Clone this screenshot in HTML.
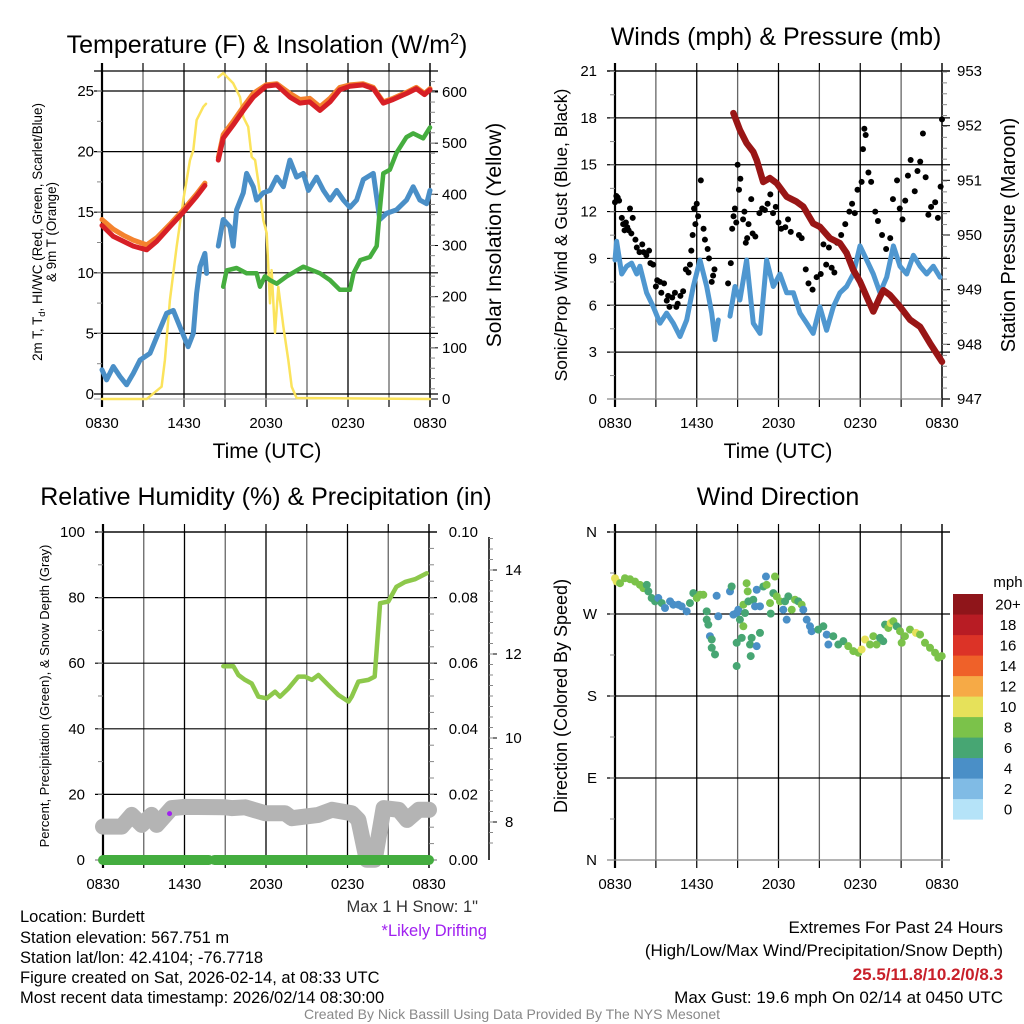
<!DOCTYPE html>
<html><head><meta charset="utf-8"><style>
body{margin:0;background:#fff}
svg{display:block;font-family:"Liberation Sans",sans-serif}
</style></head><body>
<svg id="s" width="1024" height="1024" viewBox="0 0 1024 1024">
<rect width="1024" height="1024" fill="#fff"/>
<g id="g"></g>
<g id="txt" font-size="16.5" fill="#000">
<text x="267" y="53" font-size="25" text-anchor="middle">Temperature (F) &amp; Insolation (W/m<tspan dy="-9" font-size="16">2</tspan><tspan dy="9">)</tspan></text>
<text x="776" y="45" font-size="25" text-anchor="middle">Winds (mph) &amp; Pressure (mb)</text>
<text x="266" y="505" font-size="25" text-anchor="middle">Relative Humidity (%) &amp; Precipitation (in)</text>
<text x="778" y="505" font-size="25" text-anchor="middle">Wind Direction</text>
<text x="267" y="458" font-size="21" text-anchor="middle">Time (UTC)</text>
<text x="778" y="458" font-size="21" text-anchor="middle">Time (UTC)</text>
<text transform="translate(42,232) rotate(-90)" font-size="13.4" text-anchor="middle">2m T, T<tspan dy="3" font-size="9.5">d</tspan><tspan dy="-3">, HI/WC (Red, Green, Scarlet/Blue)</tspan></text>
<text transform="translate(56,232) rotate(-90)" font-size="13.4" text-anchor="middle">&amp; 9m T (Orange)</text>
<text transform="translate(501,235) rotate(-90)" font-size="21" text-anchor="middle">Solar Insolation (Yellow)</text>
<text transform="translate(567,235) rotate(-90)" font-size="17.5" text-anchor="middle">Sonic/Prop Wind &amp; Gust (Blue, Black)</text>
<text transform="translate(1015,235) rotate(-90)" font-size="20" text-anchor="middle">Station Pressure (Maroon)</text>
<text transform="translate(49,696) rotate(-90)" font-size="13" text-anchor="middle">Percent, Precipitation (Green), &amp; Snow Depth (Gray)</text>
<text transform="translate(567,696) rotate(-90)" font-size="18" text-anchor="middle">Direction (Colored By Speed)</text>
<text x="478" y="912" text-anchor="end" fill="#333">Max 1 H Snow: 1"</text>
<text x="487" y="936" text-anchor="end" fill="#a020f0">*Likely Drifting</text>
<text x="20" y="922">Location: Burdett</text>
<text x="20" y="943">Station elevation: 567.751 m</text>
<text x="20" y="963">Station lat/lon: 42.4104; -76.7718</text>
<text x="20" y="983">Figure created on Sat, 2026-02-14, at 08:33 UTC</text>
<text x="20" y="1003">Most recent data timestamp: 2026/02/14 08:30:00</text>
<text x="1003" y="933" font-size="17" text-anchor="end">Extremes For Past 24 Hours</text>
<text x="1003" y="956" font-size="17" text-anchor="end">(High/Low/Max Wind/Precipitation/Snow Depth)</text>
<text x="1003" y="980" font-size="17" font-weight="bold" fill="#c8202a" text-anchor="end">25.5/11.8/10.2/0/8.3</text>
<text x="1003" y="1003" font-size="17" text-anchor="end">Max Gust: 19.6 mph On 02/14 at 0450 UTC</text>
<text x="512" y="1019" font-size="14" fill="#888" text-anchor="middle">Created By Nick Bassill Using Data Provided By The NYS Mesonet</text>
<text x="1008" y="587" font-size="15" text-anchor="middle">mph</text>
</g>
</svg>
<script>
// ---- data (hours since 0830 UTC) ----
const xTickLabels=["0830","1430","2030","0230","0830"];
const tempTicks=[0,5,10,15,20,25];
const insolTicks=[0,100,200,300,400,500,600];
const windTicks=[0,3,6,9,12,15,18,21];
const presTicks=[947,948,949,950,951,952,953];
const rhTicks=[0,20,40,60,80,100];
const precipTicks=["0.00","0.02","0.04","0.06","0.08","0.10"];
const snowTicks=[8,10,12,14];
const dirTicks=["N","E","S","W","N"];
const speedBins=["0","2","4","6","8","10","12","14","16","18","20+"];
const speedColors=["#b5e3f8","#80bbe5","#4a8fc7","#47a673","#7bc24a","#e6e15a","#f6aa46","#ef6129","#dc3327","#b81c24","#8f151a"];

const red1T=[0,0.83,1.56,2.29,3.27,4.0,4.97,5.95,6.92,7.53];
const red1V=[13.9,13.0,12.6,12.2,11.9,12.6,13.8,15.0,16.3,17.2];
const orange1V=[14.4,13.6,13.1,12.7,12.3,12.9,14.0,15.2,16.5,17.4];
const red2T=[8.51,8.87,9.6,10.34,11.07,12.0,12.78,13.75,14.48,15.2,15.95,16.68,17.4,18.14,19.1,19.85,20.58,21.3,22.3,23.0,23.6,24.0];
const red2V=[19.3,21.1,22.2,23.4,24.5,25.4,25.5,24.5,24.0,24.1,23.4,24.1,25.1,25.4,25.5,25.2,24.0,24.3,24.8,25.2,24.7,25.1];
const orange2V=[19.5,21.4,22.5,23.7,24.8,25.5,25.6,24.8,24.3,24.4,23.7,24.4,25.3,25.5,25.6,25.3,24.1,24.4,24.9,25.3,24.8,25.2];
const dew1T=[0,0.34,0.83,1.32,1.8,2.29,2.78,3.51,4.0,4.73,5.22,5.7,6.3,6.68,6.92,7.17,7.53,7.65];
const dew1V=[2.0,1.16,2.27,1.44,0.76,1.7,2.8,3.36,4.7,6.66,6.9,5.55,3.9,5.0,8.3,10.5,11.6,9.95];
const dew2T=[8.51,8.87,9.36,9.6,9.85,10.34,10.58,11.07,11.31,11.8,12.29,12.78,13.27,13.75,14.24,14.73,15.1,15.7,16.2,16.68,17.17,17.66,18.14,18.63,19.12,19.85,20.33,20.82,21.55,22.28,22.77,23.26,23.75,24];
const dew2V=[12.2,14.4,13.8,12.2,15.2,16.6,18.2,17.1,16.0,16.6,16.8,17.9,17.1,19.3,17.9,18.2,16.8,17.9,16.8,16.0,16.8,16.0,15.4,16.0,17.7,18.2,14.4,14.9,15.2,16.0,17.1,16.0,15.7,16.8];
const hiT=[8.87,9.12,9.85,10.58,11.31,11.56,11.92,12.29,12.78,13.51,14.73,15.95,16.68,17.4,18.14,18.4,18.9,19.6,20.1,20.33,20.58,21.06,21.55,22.28,22.77,23.5,24.0];
const hiV=[8.85,10.2,10.4,9.96,9.96,8.85,9.7,9.4,9.1,9.7,10.5,9.96,9.4,8.6,8.6,9.96,11.05,11.3,12.2,15.2,18.2,18.5,19.9,21.2,21.5,21.1,22.0];
const sol1T=[0,3.27,3.76,4.36,4.6,4.97,5.46,5.95,6.44,6.68,6.92,7.41,7.61];
const sol1V=[0,0,11,24,76,193,297,389,467,486,545,571,577];
const sol2T=[8.51,8.87,9.6,10.1,10.34,10.7,10.95,11.2,11.56,11.8,12.05,12.29,12.41,12.66,12.9,13.27,13.63,13.88,14.24,24];
const sol2V=[629,637,617,590,551,532,473,467,402,350,324,187,252,129,219,141,76,24,2,0];

const wind1T=[0,0.12,0.49,0.86,1.22,1.59,1.83,2.32,2.81,3.3,3.79,4.28,4.77,5.26,5.75,6.24,6.73,7.1,7.34,7.58];
const wind1V=[8.9,10.1,8.0,8.5,8.7,8.0,8.5,6.8,5.9,4.85,5.5,4.85,4.0,5.06,7.2,8.9,7.2,5.5,3.8,5.06];
const wind2T=[8.44,8.81,9.17,9.66,10.15,10.64,11.13,11.62,12.1,12.6,13.09,13.58,14.07,14.55,15.04,15.53,16.02,16.51,17.0,17.49,17.98,18.47,18.96,19.45,19.94,20.43,20.92,21.41,21.9,22.39,22.88,23.36,23.85];
const wind2V=[5.3,7.2,6.34,8.9,4.85,4.2,8.9,7.2,8.0,6.8,6.8,5.5,4.85,4.2,5.9,4.4,5.9,6.8,7.2,8.0,9.8,8.9,8.0,6.8,7.8,9.8,8.5,8.0,9.2,8.5,8.0,8.5,7.8];
const gustT=[0,0.1,0.2,0.3,0.5,0.6,0.7,0.8,0.9,1.0,1.1,1.2,1.3,1.5,1.6,1.8,2.0,2.1,2.3,2.5,2.6,2.8,3.0,3.1,3.3,3.4,3.6,3.8,3.9,4.0,4.2,4.4,4.5,4.6,4.8,5.0,5.2,5.4,5.5,5.6,5.7,5.8,5.9,6.0,6.1,6.3,6.5,6.6,6.8,6.9,7.1,7.2,7.3,8.3,8.5,8.6,8.7,8.8,8.9,9.0,9.1,9.2,9.4,9.5,9.6,9.7,9.8,10.0,10.1,10.3,10.6,10.8,11.0,11.2,11.4,11.6,11.8,12.0,12.2,12.5,12.7,12.9,13.2,13.5,13.7,14.0,14.2,14.5,14.8,15.1,15.3,15.5,15.7,15.9,16.1,16.3,16.6,16.9,17.2,17.4,17.6,17.8,18.1,18.2,18.3,18.4,18.6,18.8,19.1,19.3,19.6,19.9,20.2,20.4,20.7,20.9,21.1,21.3,21.5,21.7,22.0,22.2,22.4,22.6,22.8,23.0,23.2,23.5,23.7,23.9,24.0];
const gustV=[12.6,13,12.9,12.7,11.6,11.2,10.8,11.3,11.0,10.8,12.2,10.6,11.6,10.2,9.7,9.4,9.9,9.4,9.2,9.5,8.7,8.6,7.2,7.6,7.5,6.8,7.4,6.3,6.6,5.9,6.5,6.8,5.9,6.1,6.6,6.9,8.3,8.1,8.6,9.5,10.5,12.2,11.2,12.5,11.7,14.0,10.9,10.2,9.6,9.0,7.5,7.9,8.3,7.4,8.7,10.9,11.7,12.2,11.3,15.0,13.4,14.1,11.5,12.0,10.0,10.3,11.2,12.8,10.6,10.4,11.9,12.2,12.1,12.5,13.1,11.9,12.3,11.3,10.9,11.0,11.5,10.7,12.7,10.5,10.3,8.3,7.4,7.0,7.8,8.0,9.9,8.6,9.7,8.4,8.1,10.0,10.5,11.2,12.0,12.5,11.9,13.4,13.9,16.0,17.3,16.9,14.5,13.9,12.0,11.4,10.5,9.6,10.3,12.8,14.0,12.2,11.5,12.7,14.3,15.3,13.3,14.6,15.2,17.0,14.2,11.8,12.3,12.6,11.6,13.6,17.9];
const presT=[8.69,9.17,9.66,10.15,10.4,10.88,11.37,11.86,12.6,13.33,13.82,14.55,15.04,15.78,16.51,17.0,17.49,17.98,18.47,18.96,19.45,19.7,20.18,20.92,21.65,22.39,23.12,24];
const presV=[952.23,951.92,951.68,951.52,951.37,950.97,951.04,950.95,950.7,950.61,950.52,950.21,950.15,949.94,949.85,949.67,949.36,949.15,948.87,948.6,948.87,948.99,948.9,948.69,948.45,948.32,948.02,947.68];

const rhT=[8.86,9.6,9.97,10.46,10.95,11.44,12.05,12.67,13.03,13.65,14.38,14.87,15.37,15.86,16.6,17.33,18.07,18.31,18.8,19.54,20.0,20.4,21.0,21.6,22.24,22.97,23.83];
const rhV=[59.1,59.1,56.4,54.9,53.8,49.8,49.3,51.3,49.8,52.3,55.9,55.9,54.9,56.4,53.3,50.3,48.3,49.8,54.4,54.9,55.9,78.3,78.8,83.3,84.8,85.6,87.4];
const snowT=[0,1.38,2.11,2.85,3.58,3.95,5.06,6.04,8.98,9.47,10.46,11.93,13.4,13.9,15.86,16.85,18.31,18.8,19.42,20.0,20.66,21.77,22.38,23.24,24];
const snowV=[7.89,7.89,8.17,7.93,8.17,7.93,8.33,8.36,8.35,8.33,8.35,8.21,8.21,8.09,8.17,8.29,8.21,8.05,7.1,7.1,8.33,8.29,8.05,8.29,8.29];
const precip1T=[0,7.8];const precip1V=[0,0];
const precip2T=[8.2,24];const precip2V=[0,0];
const driftT=[4.9];const driftV=[8.2];

const dirT=[0,0.12,0.37,0.73,1.1,1.47,1.83,2.08,2.33,2.45,2.69,2.94,3.18,3.43,3.67,4.04,4.28,4.65,4.89,5.26,5.5,5.75,6.0,6.24,6.48,6.73,6.73,6.85,6.97,7.1,7.1,7.34,7.46,7.58,8.44,8.56,8.69,8.93,9.05,9.17,8.93,9.3,9.42,9.54,9.66,9.74,9.42,9.79,10.15,10.4,9.91,10.03,10.4,10.64,9.96,8.93,10.28,10.64,10.89,11.08,11.13,11.38,11.43,11.62,11.74,11.87,12.11,12.35,12.48,12.72,12.97,12.6,13.21,13.45,13.7,13.82,14.07,14.31,14.43,14.92,15.29,15.54,15.66,16.02,16.39,16.76,17.12,17.49,17.86,18.1,18.35,18.72,18.96,19.2,19.45,19.69,19.82,20.06,20.23,20.43,20.67,20.92,21.04,21.28,21.65,22.09,22.39,22.75,23.12,23.49,23.73,23.98];
const dirV=[309.3,305.6,303.8,309.3,308.2,305.6,302.0,298.4,302.0,294.8,287.5,283.9,287.5,282.0,276.6,283.9,280.2,280.2,278.4,272.9,282.0,292.9,287.5,291.1,291.1,272.9,263.8,258.3,245.6,242.0,232.9,225.6,290.0,267.5,294.8,300.2,269.3,271.1,274.7,263.8,238.4,243.8,256.5,271.1,303.8,294.8,280.2,283.9,285.7,296.6,236.5,243.8,234.7,249.3,223.8,212.9,278.4,278.4,300.2,311.1,302.0,282.0,270.4,292.9,311.1,289.3,283.9,274.7,283.9,289.3,274.7,263.8,285.7,283.9,280.2,274.7,263.8,256.5,251.1,252.9,256.5,247.4,236.5,245.6,236.5,240.2,234.7,229.3,227.5,231.1,242.0,236.5,245.6,236.5,243.8,240.2,258.3,254.7,260.1,262.0,256.5,251.1,238.4,245.6,252.9,249.3,247.4,238.4,232.9,227.5,222.0,223.8];
const dirS=[11,11,9,9,9,9,9,9,7,7,7,7,5,7,5,5,5,5,5,5,7,7,9,9,9,7,7,7,5,7,7,7,5,5,5,7,5,5,5,7,7,7,9,7,9,9,9,7,7,5,7,7,5,7,7,7,5,5,7,5,9,9,7,7,9,9,9,5,7,7,9,5,9,7,9,5,5,5,5,7,7,5,5,7,7,7,9,9,9,11,11,9,9,9,7,7,7,9,11,9,7,9,9,9,9,11,9,9,9,9,9,9];

// ---- drawing ----
const NS='http://www.w3.org/2000/svg';
const G=document.getElementById('g');
function el(tag,attrs,parent){const e=document.createElementNS(NS,tag);for(const k in attrs)e.setAttribute(k,attrs[k]);(parent||G).appendChild(e);return e;}
function lin(d0,d1,r0,r1){return v=>r0+(v-d0)*(r1-r0)/(d1-d0);}

function panel(x0,x1,y0,y1,yTicksPix,name){
  const g=el('g',{});
  
  
  const xs=lin(0,24,x0,x1);
  for(let h=0;h<=24;h+=3){
    const l=el('line',{x1:xs(h),x2:xs(h),y1:y0,y2:y1,stroke:(h%6===0)?'#000':'#666','stroke-width':1.3},g);
    
    
    el('line',{x1:xs(h),x2:xs(h),y1:y1,y2:y1+8,stroke:'#000','stroke-width':1.2},g);
    el('line',{x1:xs(h),x2:xs(h),y1:y0,y2:y0-8,stroke:'#000','stroke-width':1.2},g);
  }
  yTicksPix.forEach(y=>{el('line',{x1:x0-8,x2:x1+8,y1:y,y2:y,stroke:'#000','stroke-width':1.2},g);});
  el('line',{x1:x0,x2:x0,y1:y0-8,y2:y1+8,stroke:'#000','stroke-width':2.2},g);
  el('line',{x1:x1,x2:x1,y1:y0-8,y2:y1+8,stroke:'#000','stroke-width':1.3},g);
  el('line',{x1:x0-8,x2:x1+8,y1:y1,y2:y1,stroke:'#aaa','stroke-width':1},g);
  el('line',{x1:x0-8,x2:x1+8,y1:y0,y2:y0,stroke:'#000','stroke-width':1.2},g);
  xTickLabels.forEach((t,i)=>{
    const tx=el('text',{x:xs(i*6),y:y1+29,'font-size':15,'text-anchor':'middle'},g);
    tx.textContent=t;
    
    
  });
  return xs;
}
function lbl(x,y,t,anchor,name,size){
  const tx=el('text',{x:x,y:y+5,'font-size':size||15,'text-anchor':anchor});
  tx.textContent=t;
  
  
}
function path(T,V,xs,ys,color,w,name,cap){
  const d=T.map((t,i)=>(i?'L':'M')+xs(t).toFixed(1)+','+ys(V[i]).toFixed(1)).join('');
  const p=el('path',{d:d,fill:'none',stroke:color,'stroke-width':w,'stroke-linejoin':'round','stroke-linecap':cap||'round'});
  
  
}
function minor(x,y0,y1,step,side){for(let y=y0;y>=y1-0.1;y-=step){el('line',{x1:x,x2:x+side,y1:y,y2:y,stroke:'#888','stroke-width':1});}}

// Panel 1
const y1L=lin(0,25,394,91), y1R=lin(0,600,399,92);
let xs=panel(102,430,71,399,tempTicks.map(y1L),'temperature');
tempTicks.forEach(v=>lbl(94,y1L(v),v,'end','temp-tick-label'));
insolTicks.forEach(v=>{lbl(442,y1R(v),v,'start','insolation-tick-label');el('line',{x1:430,x2:438,y1:y1R(v),y2:y1R(v),stroke:'#000'});});
minor(102,y1L(2.5),y1L(25),30.3,-5);minor(430,y1R(20),y1R(640),10.24,5);
path(sol1T,sol1V,xs,y1R,'#fbe35c',2.5,'insolation-line-1');
path(sol2T,sol2V,xs,y1R,'#fbe35c',2.5,'insolation-line-2');
path(dew1T,dew1V,xs,y1L,'#4a8fc7',5,'dewpoint-line-1');
path(dew2T,dew2V,xs,y1L,'#4a8fc7',5,'dewpoint-line-2');
path(hiT,hiV,xs,y1L,'#45ad3e',4.5,'heat-index-line');
path(red1T,orange1V,xs,y1L,'#f4822d',5,'9m-temp-line-1');
path(red2T,orange2V,xs,y1L,'#f4822d',5,'9m-temp-line-2');
path(red1T,red1V,xs,y1L,'#d71f26',5,'2m-temp-line-1');
path(red2T,red2V,xs,y1L,'#d71f26',5,'2m-temp-line-2');

// Panel 2
const y2L=lin(0,21,399,71), y2R=lin(947,953,399,71);
xs=panel(615,942,71,399,windTicks.map(y2L),'winds');
windTicks.forEach(v=>lbl(597,y2L(v),v,'end','wind-tick-label'));
presTicks.forEach(v=>{lbl(957,y2R(v),v,'start','pressure-tick-label');el('line',{x1:942,x2:950,y1:y2R(v),y2:y2R(v),stroke:'#000'});});
minor(615,y2L(1.5),y2L(21),23.4,-5);minor(942,y2R(947.2),y2R(953),10.9,5);
path(wind1T,wind1V,xs,y2L,'#4f97d0',5,'wind-line-1');
path(wind2T,wind2V,xs,y2L,'#4f97d0',5,'wind-line-2');
gustT.forEach((t,i)=>{const c=el('circle',{cx:xs(t),cy:y2L(gustV[i]),r:3,fill:'#000'});

});
path(presT,presV,xs,y2R,'#991616',6.5,'pressure-line');

// Panel 3
const y3L=lin(0,100,860,532), y3P=lin(0,0.1,860,532), y3S=lin(8,14,822,570);
xs=panel(103,429,532,860,rhTicks.map(y3L),'humidity');
rhTicks.forEach(v=>lbl(85,y3L(v),v,'end','rh-tick-label'));
precipTicks.forEach((v,i)=>{lbl(478,y3L(i*20),v,'end','precip-tick-label');});
minor(103,y3L(10),y3L(100),32.8,-5);minor(429,y3L(5),y3L(95),16.4,5);
el('line',{x1:489,x2:489,y1:537,y2:860,stroke:'#000','stroke-width':1.5});
snowTicks.forEach(v=>{el('line',{x1:489,x2:497,y1:y3S(v),y2:y3S(v),stroke:'#000'});lbl(505,y3S(v),v,'start','snow-tick-label');});
minor(489,y3S(7.5),y3S(14.8),10.5,4);
path(snowT,snowV,xs,v=>Math.min(860,y3S(v)),'#b4b4b4',16,'snow-depth-line');
path(rhT,rhV,xs,y3L,'#8dc84b',4.5,'rh-line');
path(precip1T,precip1V,xs,y3P,'#44ad3f',10,'precip-line-1');
path(precip2T,precip2V,xs,y3P,'#44ad3f',10,'precip-line-2');
driftT.forEach((t,i)=>{const c=el('circle',{cx:xs(t),cy:y3S(driftV[i]),r:2.5,fill:'#a020f0'});

});

// Panel 4
const y4=lin(0,360,860,532);
xs=panel(615,942,532,860,[0,90,180,270,360].map(y4),'direction');
dirTicks.forEach((v,i)=>lbl(597,y4(i*90),v,'end','direction-tick-label'));
minor(615,y4(45),y4(360),41,-5);
dirT.forEach((t,i)=>{const k=Math.min(10,Math.floor(dirS[i]/2));
const c=el('circle',{cx:xs(t),cy:y4(dirV[i]),r:4,fill:speedColors[k]});

});
// colorbar
speedBins.forEach((b,i)=>{const y=594+(10-i)*20.5;
const r=el('rect',{x:953,y:y,width:30,height:20.6,fill:speedColors[i]});


lbl(1008,y+10.25,b,'middle','colorbar-label');});
</script>
</body></html>
